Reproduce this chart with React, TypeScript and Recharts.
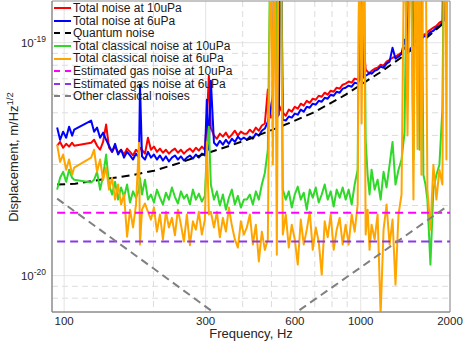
import { CartesianGrid, Legend, Line, LineChart, ReferenceArea, XAxis, YAxis } from 'recharts'

// displacement values are in units of 1e-20 m/Hz^1/2
const frequency = [
  94.7, 96.9, 99.2, 101.6, 103.9, 106.4, 108.1,
  123.3, 126.2, 129.1, 132.2, 135.3, 138.5, 141.7, 145.1, 148.5, 152.0, 155.6, 159.2, 163.0, 166.8, 170.7, 174.7, 178.8, 180.2, 183.0, 187.3, 191.7,
  196.2, 200.8, 205.5, 210.4, 215.3, 220.4, 225.6, 230.9, 236.3, 241.9, 247.6, 253.4, 259.3, 265.5, 271.7, 278.1, 284.6, 291.3, 298.2, 302.9, 307.6, 312.4, 320.0, 327.4, 335.0, 343.0, 351.1, 359.4, 367.8, 376.4, 385.3, 394.3, 403.6,
  413.1, 422.9, 432.8, 443.0, 453.4, 464.1, 475.0, 486.2, 497.6, 505.4, 513.2, 521.3, 529.4, 537.7, 546.1, 558.9, 572.1, 585.5, 599.3, 613.4, 627.8, 642.6, 657.7, 673.2, 689.0, 705.2, 721.8, 738.8, 756.1, 773.9, 792.1, 810.7, 829.8, 849.3, 869.3, 889.7,
  910.7, 932.1, 954.0, 976.5, 991.7, 1007, 1023, 1039, 1055, 1071, 1088, 1114, 1140, 1167, 1194, 1222, 1251, 1280, 1310, 1341, 1373, 1405, 1438, 1472, 1506, 1530, 1554, 1578, 1602, 1627, 1653, 1678, 1718, 1758, 1800, 1842, 1885, 1915, 1930, 1945, 1960, 1975,
]

const totalNoise10 = [
  3.61, 3.75, 3.54, 3.68, 3.58, 3.72, 3.61,
  3.72, 3.83, 3.61, 3.47, 3.75, 4.45, 3.54, 3.40, 3.58, 3.37, 3.47, 3.31, 3.51, 3.40, 3.28, 3.47, 3.37, 3.54, 3.47, 3.34, 3.91,
  3.47, 3.58, 3.40, 3.51, 3.37, 3.47, 3.34, 3.44, 3.51, 3.37, 3.47, 3.34, 3.44, 3.51, 3.40, 3.54, 3.44, 3.58, 3.47, 4.67, 7.22, 4.32, 3.99, 3.87, 4.07, 3.95, 4.11, 3.91, 4.03, 4.19, 3.99, 4.15, 4.07,
  4.07, 4.23, 4.11, 4.32, 4.19, 4.41, 4.50, 6.29, 4.77, 4.91, 40, 40, 5.42, 5.16, 5.01, 4.86, 5.16, 5.06, 5.31, 5.21, 5.47, 5.37, 5.63, 5.52, 5.75, 5.69, 5.92, 5.86, 6.10, 5.98, 6.22, 6.16, 6.41, 6.35, 6.60, 6.67,
  6.81, 6.74, 7.01, 6.94, 7.15, 7.22, 10.0, 7.66, 7.51, 7.36, 7.58, 7.73, 7.81, 8.04, 7.97, 8.29, 8.45, 8.62, 8.71, 8.88, 9.06, 9.52, 9.33, 40, 10.0, 10.3, 10.2, 10.6, 10.5, 10.8, 10.9, 11.1, 11.37, 11.6, 11.8, 12.2, 12.4, 40, 40, 40, 40, 40,
]

const totalNoise6 = [
  4.32, 3.83, 4.15, 3.91, 4.36, 3.99, 4.23,
  4.63, 4.15, 4.32, 3.91, 4.11, 3.83, 3.61, 3.40, 3.68, 3.31, 3.47, 3.21, 3.40, 3.28, 3.15, 3.34, 3.21, 6.60, 3.25, 3.15, 3.40,
  3.21, 3.31, 3.15, 3.28, 3.12, 3.25, 3.09, 3.21, 3.28, 3.15, 3.25, 3.12, 3.21, 3.28, 3.18, 3.31, 3.21, 3.34, 3.28, 5.69, 3.47, 6.87, 3.72, 3.61, 3.79, 3.65, 3.83, 3.68, 3.87, 3.75, 3.95, 3.83, 3.91,
  3.83, 3.95, 3.87, 4.07, 3.99, 4.19, 4.28, 4.58, 5.16, 5.98, 40, 4.77, 4.91, 40, 4.67, 4.63, 4.82, 4.77, 4.96, 4.91, 5.16, 5.06, 5.31, 5.26, 5.47, 5.42, 5.63, 5.58, 5.80, 5.75, 5.98, 5.92, 6.16, 6.10, 6.35, 6.41,
  6.54, 6.47, 6.74, 6.67, 6.94, 40, 7.08, 7.22, 7.29, 7.44, 7.36, 7.58, 7.66, 7.89, 7.81, 8.13, 8.29, 9.52, 8.54, 8.71, 8.97, 10.3, 9.24, 9.42, 9.80, 10.2, 10.0, 10.4, 10.3, 10.6, 10.7, 10.8, 11.1, 11.25, 11.6, 11.8, 12.2, 12.55, 40, 40, 40, 40,
]

const classical10 = [
  2.34, 2.63, 2.79, 2.53, 2.85, 2.63, 2.58,
  2.51, 2.58, 2.79, 2.34, 2.68, 3.31, 2.46, 2.23, 2.53, 2.12, 2.39, 2.18, 2.46, 2.06, 2.30, 2.16, 2.34, 2.63, 2.23, 2.58, 2.12,
  2.23, 2.06, 2.34, 2.16, 2.02, 2.27, 2.12, 2.39, 2.18, 2.04, 2.30, 2.14, 2.23, 2.02, 2.34, 2.12, 2.25, 2.08, 2.20, 3.47, 4.36, 2.46, 2.12, 2.30, 2.00, 2.23, 1.92, 2.16, 2.34, 2.02, 2.20, 1.96, 2.12,
  2.12, 2.23, 2.02, 2.30, 2.12, 2.46, 2.76, 3.47, 40, 40, 40, 4.67, 40, 40, 2.34, 2.12, 2.30, 1.96, 2.23, 2.41, 2.12, 2.27, 1.92, 2.34, 2.16, 2.39, 2.06, 2.23, 2.46, 2.12, 2.30, 1.98, 2.34, 2.16, 2.39, 2.12,
  2.34, 2.02, 2.46, 2.85, 40, 40, 40, 3.83, 2.71, 2.23, 2.85, 2.34, 2.58, 2.12, 2.79, 2.39, 2.99, 3.75, 2.46, 2.85, 3.15, 4.11, 40, 40, 3.15, 40, 40, 3.47, 40, 2.71, 2.46, 2.12, 1.115, 2.34, 2.71, 2.99, 5.16, 40, 40, 40, 40, 40,
]

const classical6 = [
  3.65, 3.08, 3.31, 2.85, 3.15, 2.71, 2.91,
  3.21, 3.47, 2.79, 3.15, 2.58, 2.91, 2.34, 2.63, 2.12, 2.46, 2.02, 2.23, 1.47, 1.92, 1.61, 2.02, 3.72, 1.36, 1.92, 2.04, 1.88,
  1.74, 1.96, 1.545, 1.83, 1.43, 1.88, 1.61, 1.77, 1.49, 1.92, 1.655, 1.40, 1.83, 1.35, 1.71, 1.575, 1.88, 1.50, 1.74, 3.75, 1.83, 1.88, 1.61, 1.88, 1.46, 1.77, 1.545, 1.96, 1.64, 1.43, 1.32, 1.71, 1.50,
  1.61, 1.83, 1.36, 1.655, 1.15, 1.545, 1.29, 1.43, 40, 3.0, 40, 1.23, 40, 40, 1.50, 1.83, 1.32, 1.655, 1.43, 1.115, 1.74, 1.36, 1.575, 1.88, 1.29, 1.61, 1.40, 1.01, 1.71, 1.46, 1.83, 1.29, 1.575, 1.77, 1.36, 1.655,
  1.36, 1.83, 1.545, 2.02, 40, 4.5, 40, 1.50, 1.92, 1.29, 1.655, 1.43, 1.83, 0.68, 1.575, 2.02, 1.36, 1.74, 0.915, 1.83, 2.23, 40, 4.0, 40, 2.12, 40, 3.5, 40, 2.71, 40, 40, 2.34, 1.575, 2.99, 2.12, 2.85, 2.46, 40, 40, 3.15, 40, 40,
]

const quantumFreq = [94.7, 108.9, 132.2, 166.8, 200.8, 245.7, 300, 362, 423, 494, 577, 689, 786, 890, 1039, 1158, 1352, 1578, 1900]
const quantumNoise = [2.46, 2.48, 2.58, 2.69, 2.82, 3.05, 3.34, 3.61, 3.87, 4.19, 4.53, 5.0, 5.47, 5.98, 6.81, 7.43, 8.53, 9.89, 12.1]

const gasFreq = [94.7, 2000]
const gasNoise10 = [1.86, 1.86]
const gasNoise6 = [1.4, 1.4]

const otherFreq = [94.7, 200.8, 300, 439, 650, 1000, 1930]
const otherNoise = [2.14, 1.07, 0.736, 0.519, 0.74, 1.085, 1.96]

const xTicks = [100, 300, 600, 1000, 2000]
const xMinor = [200, 400, 500, 700, 800, 900]
const yTicks = [1, 10]
const yMinor = [0.8, 0.9, 2, 3, 4, 5, 6, 7, 8, 9]

const FONT = '"Liberation Sans", Arial, Helvetica, sans-serif'
const TEXT = '#262626'
const AXIS = '#8c8c8c'

const rows = (xs: number[], ys: number[]) => xs.map((f, i) => ({ f, v: ys[i] }))

const series = [
  { name: 'Total noise at 10uPa', color: '#ff0000', dashed: false, data: rows(frequency, totalNoise10) },
  { name: 'Total noise at 6uPa', color: '#0000ff', dashed: false, data: rows(frequency, totalNoise6) },
  { name: 'Quantum noise', color: '#000000', dashed: true, data: rows(quantumFreq, quantumNoise) },
  { name: 'Total classical noise at 10uPa', color: '#30d82a', dashed: false, data: rows(frequency, classical10) },
  { name: 'Total classical noise at 6uPa', color: '#ffa500', dashed: false, data: rows(frequency, classical6) },
  { name: 'Estimated gas noise at 10uPa', color: '#ff00ff', dashed: true, data: rows(gasFreq, gasNoise10) },
  { name: 'Estimated gas noise at 6uPa', color: '#8b36e8', dashed: true, data: rows(gasFreq, gasNoise6) },
  { name: 'Other classical noises', color: '#808080', dashed: true, data: rows(otherFreq, otherNoise) },
]

function XTick({ x, payload }: any) {
  return (
    <text x={x} y={325} textAnchor="middle" fontSize={11.5} fontFamily={FONT} fill={TEXT}>
      {payload.value}
    </text>
  )
}

function YTick({ y, payload }: any) {
  const exp = Math.round(Math.log10(payload.value)) - 20
  return (
    <text x={46} y={y + 4.5} textAnchor="end" fontSize={11.5} fontFamily={FONT} fill={TEXT}>
      10
      <tspan dy={-5} fontSize={8.5}>
        {exp}
      </tspan>
    </text>
  )
}

function LegendBox() {
  return (
    <div style={{ fontFamily: FONT, fontSize: 12, color: '#1a1a1a' }}>
      {series.map((s) => (
        <div key={s.name} style={{ display: 'flex', alignItems: 'center', height: 12.6, whiteSpace: 'nowrap' }}>
          <svg width={17} height={12} style={{ display: 'block' }}>
            <line
              x1={0}
              x2={17}
              y1={6}
              y2={6}
              stroke={s.color}
              strokeWidth={2}
              strokeDasharray={s.dashed ? '6 5' : undefined}
            />
          </svg>
          <span style={{ marginLeft: 2, lineHeight: '12.6px' }}>{s.name}</span>
        </div>
      ))}
    </div>
  )
}

export default function App() {
  return (
    <div style={{ position: 'absolute', left: 0, top: 0, background: '#fff' }}>
      <LineChart width={463} height={342} margin={{ top: 1, right: 13, bottom: 0, left: 0 }}>
        <CartesianGrid verticalValues={xMinor} horizontalValues={yMinor} stroke="#dcdcdc" strokeDasharray="6 4" />
        <CartesianGrid verticalValues={xTicks} horizontalValues={yTicks} stroke="#e4e4e4" />
        <XAxis
          dataKey="f"
          type="number"
          scale="log"
          domain={[91, 2000]}
          allowDataOverflow
          ticks={xTicks}
          interval={0}
          height={30}
          tickLine={false}
          axisLine={{ stroke: AXIS }}
          tick={(p: any) => <XTick {...p} />}
          label={{
            content: () => (
              <text x={251} y={337.5} textAnchor="middle" fontSize={13} fontFamily={FONT} fill={TEXT}>
                Frequency, Hz
              </text>
            ),
          }}
        />
        <YAxis
          dataKey="v"
          type="number"
          scale="log"
          domain={[0.698, 15.1]}
          allowDataOverflow
          ticks={yTicks}
          interval={0}
          width={52}
          tickLine={false}
          axisLine={{ stroke: AXIS }}
          tick={(p: any) => <YTick {...p} />}
          label={{
            content: () => (
              <text
                transform="translate(17.5,157) rotate(-90)"
                textAnchor="middle"
                fontSize={13}
                fontFamily={FONT}
                fill={TEXT}
              >
                Displacement, m/Hz
                <tspan dy={-5} fontSize={9.5}>
                  1/2
                </tspan>
              </text>
            ),
          }}
        />
        {series.map((s) => (
          <Line
            key={s.name}
            data={s.data}
            dataKey="v"
            name={s.name}
            type="linear"
            stroke={s.color}
            strokeWidth={2}
            strokeDasharray={s.dashed ? '8 5' : undefined}
            strokeLinejoin="round"
            dot={false}
            activeDot={false}
            isAnimationActive={false}
          />
        ))}
        <ReferenceArea x1={91} x2={2000} y1={0.698} y2={15.1} fill="none" stroke={AXIS} strokeWidth={1} />
        <Legend
          layout="vertical"
          align="center"
          verticalAlign="middle"
          wrapperStyle={{ top: 2, left: 54, width: 'auto' }}
          content={() => <LegendBox />}
        />
      </LineChart>
    </div>
  )
}
